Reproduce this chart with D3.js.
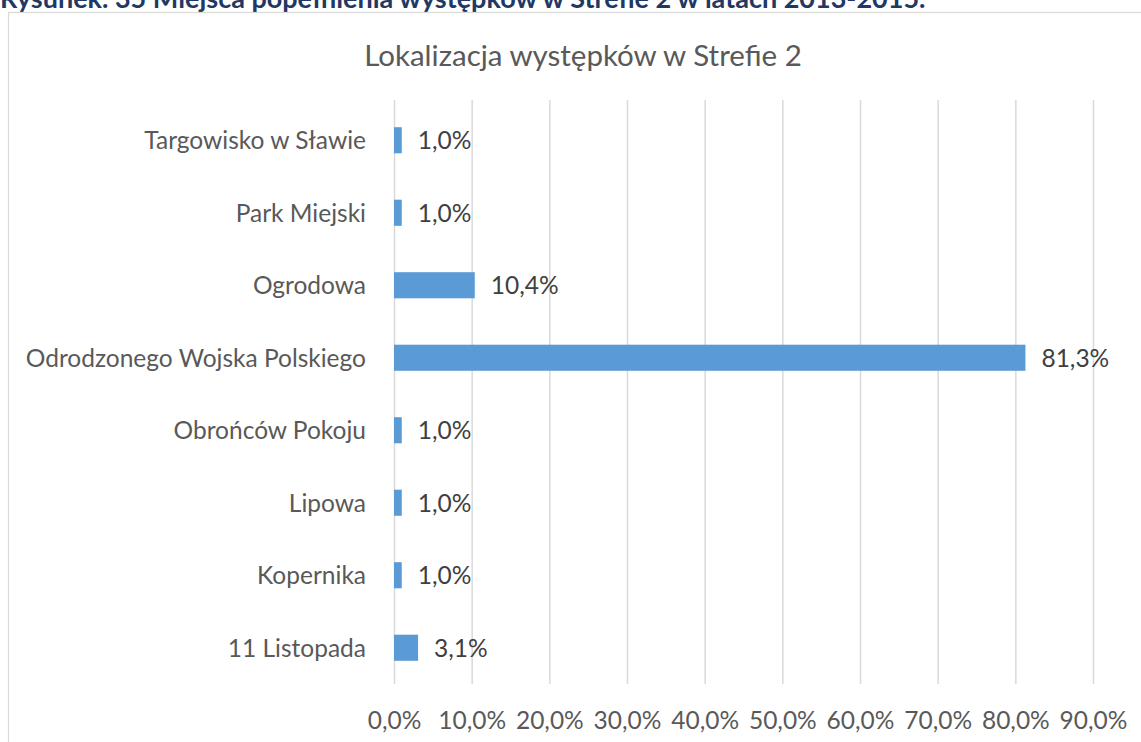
<!DOCTYPE html>
<html>
<head>
<meta charset="utf-8">
<script src="https://cdn.jsdelivr.net/npm/d3@7"></script>
<style>
  body { margin: 0; background: #fff; }
  svg { display: block; font-family: Lato, "Open Sans", sans-serif; }
</style>
</head>
<body>
<svg id="chart"></svg>
<script>
// data
var categories = ["Targowisko w Sławie", "Park Miejski", "Ogrodowa", "Odrodzonego Wojska Polskiego",
    "Obrońców Pokoju", "Lipowa", "Kopernika", "11 Listopada"]
var values = [1.0, 1.0, 10.4, 81.3, 1.0, 1.0, 1.0, 3.1]
var tickValues = [0, 10, 20, 30, 40, 50, 60, 70, 80, 90]

var W = 1141, H = 742
var margin = { top: 104, left: 394, right: 48, bottom: 58 }
var fs = 24.5

var svg = d3.select("#chart").attr("width", W).attr("height", H)

// caption above the chart, clipped by the page edge
svg.append("text").attr("x", 0).attr("y", 8)
    .attr("font-family", "Lato, sans-serif").attr("font-weight", "bold").attr("font-size", 27)
    .attr("fill", "#1F3864")
    .text("Rysunek. 35 Miejsca popełnienia występków w Strefie 2 w latach 2013-2015.")

// chart frame
svg.append("rect").attr("x", 8.5).attr("y", 12.5).attr("width", W + 10).attr("height", H + 10)
    .attr("fill", "#fff").attr("stroke", "#d9d9d9").attr("stroke-width", 1.2)

svg.append("text").attr("x", 583).attr("y", 66).attr("text-anchor", "middle")
    .attr("font-size", 29.5).attr("fill", "#595959")
    .text("Lokalizacja występków w Strefie 2")

var xScale = d3.scaleLinear().domain([0, 90]).range([margin.left, 1093])
var yScale = d3.scaleBand().domain(categories).range([margin.top, H - margin.bottom]).paddingInner(0.64).paddingOuter(0.32)

var plotBottom = H - margin.bottom

// gridlines + tick labels
var xAxis = svg.append("g").attr("transform", "translate(0," + plotBottom + ")")
    .call(d3.axisBottom(xScale).tickValues(tickValues).tickSize(-(plotBottom - 100))
        .tickFormat(d => d3.format(".1f")(d).replace(".", ",") + "%"))
xAxis.select(".domain").remove()
xAxis.selectAll(".tick line").attr("stroke", "#d9d9d9").attr("stroke-width", 1.5)
xAxis.selectAll(".tick text").attr("font-size", fs).attr("fill", "#595959").attr("dy", 0).attr("y", 45)
    .attr("font-family", "Lato, sans-serif")

// bars
svg.selectAll(".bar").data(values).join("rect").attr("class", "bar")
    .attr("x", xScale(0))
    .attr("y", (d, i) => yScale(categories[i]))
    .attr("width", d => xScale(d) - xScale(0))
    .attr("height", yScale.bandwidth())
    .attr("fill", "#5B9BD5")

// value labels
svg.selectAll(".val").data(values).join("text").attr("class", "val")
    .attr("x", d => xScale(d) + 16)
    .attr("y", (d, i) => yScale(categories[i]) + yScale.bandwidth() / 2)
    .attr("dy", "0.36em")
    .attr("font-size", fs).attr("fill", "#404040")
    .text(d => d3.format(".1f")(d).replace(".", ",") + "%")

// category labels
svg.selectAll(".cat").data(categories).join("text").attr("class", "cat")
    .attr("x", 366)
    .attr("y", d => yScale(d) + yScale.bandwidth() / 2)
    .attr("dy", "0.36em").attr("text-anchor", "end")
    .attr("font-size", fs).attr("fill", "#595959")
    .text(d => d)
</script>
</body>
</html>
